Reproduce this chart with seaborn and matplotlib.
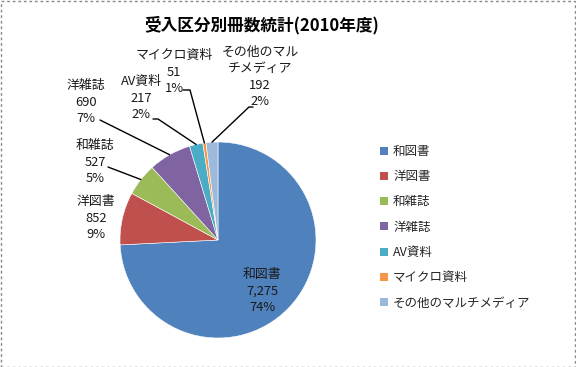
import numpy as np
import matplotlib.pyplot as plt
import seaborn as sns
from matplotlib.patches import Patch, Rectangle

# chart data
categories = ["和図書", "洋図書", "和雑誌", "洋雑誌", "AV資料", "マイクロ資料", "その他のマルチメディア"]
label_names = ["和図書", "洋図書", "和雑誌", "洋雑誌", "AV資料", "マイクロ資料", "その他のマル\nチメディア"]
counts = [7275, 852, 527, 690, 217, 51, 192]
title = "受入区分別冊数統計(2010年度)"

colors = ["#4F81BD", "#C0504D", "#9BBB59", "#8064A2", "#4BACC6", "#F79646", "#9DB9DC"]

sns.set_theme(style="white")
plt.rcParams['font.family'] = ['Noto Sans CJK JP', 'DejaVu Sans']

W, H = 576, 367
CX, CY, R = 218, 240, 98   # pie centre / radius in pixels
LS = 16.5                  # label line step in pixels


def to_data(px, py):
    return (px - CX) / R, (CY - py) / R


# label centres (pixels) and label-side leader points
label_pos = [(262, 291), (96, 218), (95, 162), (86, 102), (141, 98), (174, 72), (260, 77)]
leaders = [None, None,
           [(108, 167)],
           [(100, 120)],
           [(153, 119), (158, 119)],
           [(183, 90), (190, 90)],
           [(253, 107), (249, 107)]]

fig = plt.figure(figsize=(W / 100, H / 100), dpi=100)
ax = fig.add_axes([0, 0, 1, 1])
wedges, _ = ax.pie(counts, colors=colors, startangle=90, counterclock=False,
                   wedgeprops=dict(edgecolor="white", linewidth=0.4))
ax.set_xlim(-CX / R, (W - CX) / R)
ax.set_ylim(-(H - CY) / R, CY / R)
ax.set_aspect("auto")
ax.axis("off")

total = sum(counts)
for i, (name, v) in enumerate(zip(label_names, counts)):
    pct = round(100 * v / total)
    lines = f"{name}\n{v:,}\n{pct}%".split("\n")
    px, py = label_pos[i]
    n = len(lines)
    for k, line in enumerate(lines):
        x, y = to_data(px, py + (k - (n - 1) / 2) * LS)
        ax.text(x, y, line, ha="center", va="center",
                fontsize=9.3, color="#1a1a1a")
    if leaders[i]:
        w = wedges[i]
        mid = np.deg2rad((w.theta1 + w.theta2) / 2)
        pts = [to_data(*p) for p in leaders[i]] + [(np.cos(mid), np.sin(mid))]
        xs, ys = zip(*pts)
        ax.plot(xs, ys, color="black", lw=1)

fig.text(262 / W, 1 - 25 / H, title, ha="center", va="center",
         fontsize=12, fontweight="bold", color="black")

handles = [Patch(facecolor=c, edgecolor="none", label=n) for c, n in zip(colors, categories)]
ax.legend(handles=handles, loc="upper left", bbox_to_anchor=(380 / W, 1 - 145 / H),
          bbox_transform=fig.transFigure, frameon=False, fontsize=9,
          handlelength=0.6, handleheight=0.6, handletextpad=0.45,
          labelspacing=0.98, borderpad=0, borderaxespad=0)

fig.add_artist(Rectangle((0.5 / W, 0.5 / H), 1 - 1.5 / W, 1 - 1.5 / H,
                         transform=fig.transFigure, fill=False,
                         edgecolor="#888888", lw=1, linestyle=(0, (2, 2))))

fig.savefig("out.png", dpi=100)
